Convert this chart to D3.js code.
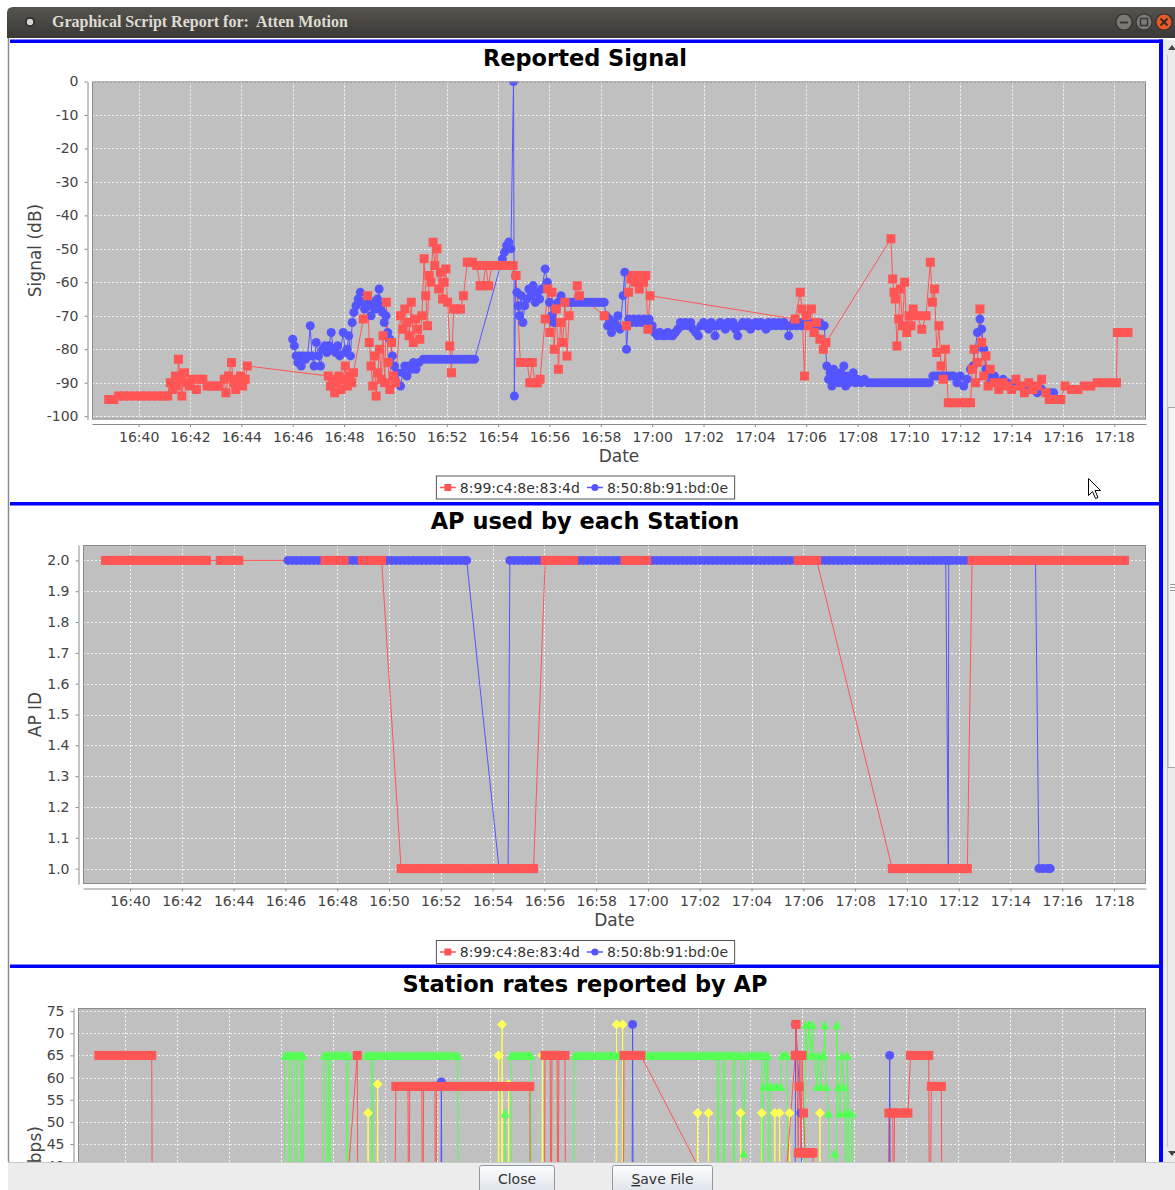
<!DOCTYPE html>
<html>
<head>
<meta charset="utf-8">
<script src="https://cdn.jsdelivr.net/npm/d3@7/dist/d3.min.js"></script>
<style>
  html, body { margin: 0; padding: 0; background: #fff; overflow: hidden; }
  svg { display: block; font-family: "DejaVu Sans", sans-serif; }
</style>
</head>
<body>
<script>
// ---------------- data ----------------
const windowTitle = "Graphical Script Report for:  Atten Motion";
const timeDomain = ["16:38:11", "17:19:14"];
const dateTicks = ["16:40","16:42","16:44","16:46","16:48","16:50","16:52","16:54","16:56","16:58",
                   "17:00","17:02","17:04","17:06","17:08","17:10","17:12","17:14","17:16","17:18"];
const stations = ["8:99:c4:8e:83:4d", "8:50:8b:91:bd:0e"];

const signalTicks = [0, -10, -20, -30, -40, -50, -60, -70, -80, -90, -100];
const apTicks = [1.0, 1.1, 1.2, 1.3, 1.4, 1.5, 1.6, 1.7, 1.8, 1.9, 2.0];
const rateTicks = [0, 5, 10, 15, 20, 25, 30, 35, 40, 45, 50, 55, 60, 65, 70, 75];

// Reported Signal (dB)
const signalRed = [
["16:38:50",-95],["16:39:02",-95],["16:39:13",-94],["16:39:26",-94],["16:39:39",-94],["16:39:52",-94],["16:40:05",-94],
["16:40:18",-94],["16:40:31",-94],["16:40:44",-94],["16:40:57",-94],["16:41:08",-94],["16:41:14",-90],["16:41:20",-92],
["16:41:26",-88],["16:41:30",-91],["16:41:33",-83],["16:41:37",-89],["16:41:41",-94],["16:41:47",-87],["16:41:52",-90],
["16:41:58",-91],["16:42:05",-89],["16:42:15",-92],["16:42:22",-89],["16:42:30",-89],["16:42:40",-91],["16:42:50",-91],
["16:43:00",-91],["16:43:08",-91],["16:43:20",-89],["16:43:24",-93],["16:43:30",-88],["16:43:37",-84],["16:43:42",-90],
["16:43:47",-92],["16:43:52",-89],["16:43:58",-88],["16:44:03",-91],["16:44:09",-89],["16:44:14",-85],
["16:47:23",-88],["16:47:28",-91],["16:47:33",-89],["16:47:38",-93],["16:47:43",-90],["16:47:48",-88],["16:47:53",-92],
["16:47:58",-89],["16:48:03",-85],["16:48:08",-91],["16:48:13",-88],["16:48:18",-90],["16:48:22",-87],
["16:48:45",-71],["16:48:55",-64],["16:48:59",-78],["16:49:03",-85],["16:49:07",-91],["16:49:11",-82],["16:49:15",-94],
["16:49:19",-87],["16:49:23",-80],["16:49:27",-89],["16:49:31",-76],["16:49:35",-90],["16:49:39",-66],["16:49:43",-84],
["16:49:47",-92],["16:49:51",-78],["16:49:55",-88],["16:50:00",-90],
["16:50:12",-70],["16:50:17",-74],["16:50:22",-68],["16:50:27",-72],["16:50:32",-76],["16:50:37",-66],["16:50:42",-78],
["16:50:47",-71],["16:50:52",-74],["16:50:57",-77],["16:51:02",-70],["16:51:07",-53],["16:51:11",-64],["16:51:15",-73],
["16:51:19",-58],["16:51:23",-60],["16:51:28",-48],["16:51:32",-55],["16:51:37",-50],["16:51:41",-62],["16:51:45",-57],
["16:51:50",-65],["16:51:54",-60],["16:51:58",-56],["16:52:02",-66],["16:52:07",-79],["16:52:11",-87],["16:52:16",-68],
["16:52:24",-68],["16:52:32",-68],["16:52:39",-64],["16:52:48",-54],["16:53:00",-54],["16:53:10",-55],["16:53:18",-61],
["16:53:25",-61],["16:53:31",-55],["16:53:38",-61],["16:53:45",-55],["16:53:55",-55],["16:54:05",-55],["16:54:15",-55],
["16:54:25",-55],["16:54:35",-55],["16:54:42",-58],["16:54:52",-84],["16:55:00",-84],["16:55:08",-84],["16:55:14",-90],
["16:55:20",-84],["16:55:26",-90],["16:55:32",-90],["16:55:38",-89],["16:55:50",-71],["16:55:56",-62],["16:56:01",-75],
["16:56:06",-63],["16:56:11",-80],["16:56:16",-68],["16:56:21",-86],["16:56:26",-72],["16:56:31",-78],["16:56:36",-66],
["16:56:41",-82],["16:56:46",-70],["16:57:05",-61],["16:57:10",-64],["16:58:08",-70],
["16:59:00",-73],["16:59:05",-63],["16:59:10",-59],["16:59:15",-58],["16:59:20",-60],["16:59:25",-58],["16:59:30",-62],
["16:59:35",-58],["16:59:40",-60],["16:59:45",-58],["16:59:50",-74],["16:59:55",-64],
["17:05:34",-71],["17:05:46",-63],["17:05:50",-68],["17:05:56",-88],["17:06:00",-70],["17:06:05",-73],["17:06:12",-68],
["17:06:18",-75],["17:06:24",-72],["17:06:32",-77],["17:06:40",-80],["17:06:46",-78],
["17:09:18",-47],["17:09:22",-59],["17:09:25",-63],["17:09:28",-65],["17:09:32",-79],["17:09:36",-71],["17:09:40",-62],
["17:09:45",-73],["17:09:50",-60],["17:09:55",-75],["17:10:00",-70],["17:10:05",-73],["17:10:10",-68],["17:10:20",-70],
["17:10:30",-74],["17:10:40",-70],["17:10:50",-54],["17:10:55",-66],["17:11:00",-62],["17:11:05",-81],["17:11:10",-73],
["17:11:15",-85],["17:11:20",-89],["17:11:25",-80],["17:11:32",-96],["17:11:45",-96],["17:12:00",-96],["17:12:12",-96],
["17:12:24",-96],["17:12:28",-86],["17:12:32",-80],["17:12:36",-90],["17:12:40",-84],["17:12:46",-68],["17:12:50",-78],
["17:12:55",-88],["17:13:00",-82],["17:13:05",-91],["17:13:10",-86],["17:13:20",-90],["17:13:30",-92],["17:13:40",-90],
["17:13:50",-91],["17:14:00",-92],["17:14:10",-89],["17:14:20",-91],["17:14:30",-93],["17:14:40",-90],["17:14:50",-92],
["17:15:00",-91],["17:15:10",-89],["17:15:20",-93],["17:15:28",-95],["17:15:40",-95],["17:15:55",-95],["17:16:05",-91],
["17:16:20",-92],["17:16:35",-92],["17:16:50",-91],["17:17:05",-91],["17:17:20",-90],["17:17:35",-90],["17:17:50",-90],
["17:18:05",-90],["17:18:07",-75],["17:18:20",-75],["17:18:32",-75]
];
const signalBlue = [
["16:46:00",-77],["16:46:04",-79],["16:46:08",-82],["16:46:12",-84],["16:46:16",-82],["16:46:20",-85],["16:46:25",-82],
["16:46:30",-83],["16:46:35",-82],["16:46:41",-73],["16:46:45",-82],["16:46:50",-85],["16:46:55",-78],["16:47:00",-82],
["16:47:05",-85],["16:47:10",-80],["16:47:15",-79],["16:47:20",-81],["16:47:25",-79],["16:47:30",-75],["16:47:35",-80],
["16:47:40",-81],["16:47:45",-79],["16:47:50",-82],["16:47:58",-75],["16:48:03",-81],["16:48:07",-80],["16:48:11",-76],
["16:48:15",-82],["16:48:19",-72],["16:48:23",-69],["16:48:28",-67],["16:48:33",-65],["16:48:38",-63],["16:48:43",-66],
["16:48:48",-68],["16:48:53",-65],["16:48:58",-67],["16:49:03",-70],["16:49:08",-66],["16:49:13",-68],["16:49:18",-65],
["16:49:22",-62],["16:49:26",-67],["16:49:30",-69],["16:49:34",-72],["16:49:38",-70],["16:49:42",-75],["16:49:47",-77],
["16:49:53",-82],["16:49:58",-85],["16:50:04",-87],["16:50:12",-91],["16:50:17",-87],["16:50:22",-85],["16:50:27",-88],
["16:50:32",-85],["16:50:37",-86],["16:50:42",-84],["16:50:48",-86],["16:50:55",-84],
["16:51:05",-83],["16:51:13",-83],["16:51:21",-83],["16:51:29",-83],["16:51:37",-83],["16:51:45",-83],["16:51:53",-83],
["16:52:01",-83],["16:52:09",-83],["16:52:17",-83],["16:52:25",-83],["16:52:33",-83],["16:52:41",-83],["16:52:49",-83],
["16:52:57",-83],["16:53:05",-83],
["16:54:10",-53],["16:54:15",-51],["16:54:20",-49],["16:54:25",-48],["16:54:30",-50],
["16:54:36",0],["16:54:38",-94],["16:54:41",-58],["16:54:44",-63],["16:54:47",-67],["16:54:50",-70],["16:54:54",-64],
["16:54:58",-72],["16:55:02",-67],["16:55:07",-65],["16:55:12",-62],["16:55:17",-64],["16:55:22",-61],["16:55:27",-66],
["16:55:32",-63],["16:55:37",-65],["16:55:42",-62],["16:55:50",-56],["16:55:55",-60],["16:56:00",-66],["16:56:05",-70],
["16:56:10",-72],["16:56:15",-68],["16:56:20",-66],["16:56:27",-64],
["16:56:35",-66],["16:56:43",-66],["16:56:51",-66],["16:56:59",-66],["16:57:07",-66],["16:57:15",-66],["16:57:23",-66],
["16:57:31",-66],["16:57:39",-66],["16:57:47",-66],["16:57:55",-66],["16:58:03",-66],["16:58:08",-66],
["16:58:12",-70],["16:58:16",-73],["16:58:20",-71],["16:58:25",-75],["16:58:30",-72],["16:58:35",-73],["16:58:40",-70],
["16:58:45",-74],["16:58:52",-64],["16:58:56",-57],["16:59:00",-80],
["16:59:05",-71],["16:59:11",-72],["16:59:17",-71],["16:59:23",-72],["16:59:29",-71],["16:59:35",-72],["16:59:41",-71],
["16:59:47",-72],["16:59:53",-71],["17:00:00",-73],["17:00:06",-75],["17:00:12",-76],["17:00:18",-75],["17:00:24",-76],
["17:00:30",-76],["17:00:36",-75],["17:00:42",-76],["17:00:48",-76],["17:00:54",-75],["17:01:00",-74],["17:01:06",-72],
["17:01:12",-73],["17:01:18",-72],["17:01:24",-73],["17:01:30",-72],["17:01:36",-74],["17:01:42",-75],["17:01:48",-76],
["17:01:54",-73],["17:02:00",-72],["17:02:06",-73],["17:02:12",-74],["17:02:18",-72],["17:02:24",-73],["17:02:27",-76],
["17:02:33",-73],["17:02:39",-72],["17:02:45",-73],["17:02:51",-74],["17:02:57",-72],["17:03:03",-73],["17:03:09",-72],
["17:03:15",-74],["17:03:20",-76],["17:03:26",-73],["17:03:32",-72],["17:03:38",-73],["17:03:44",-72],["17:03:50",-74],
["17:03:56",-73],["17:04:02",-72],["17:04:08",-73],["17:04:14",-72],["17:04:20",-73],["17:04:26",-74],["17:04:32",-72],
["17:04:38",-73],["17:04:44",-72],["17:04:50",-73],["17:04:56",-72],["17:05:02",-73],["17:05:08",-72],["17:05:14",-73],
["17:05:19",-76],["17:05:25",-73],["17:05:31",-72],["17:05:37",-73],["17:05:43",-72],["17:05:49",-73],["17:05:55",-72],
["17:06:01",-73],["17:06:07",-72],["17:06:13",-73],["17:06:19",-72],["17:06:25",-73],["17:06:31",-72],["17:06:37",-73],
["17:06:42",-73],
["17:06:48",-85],["17:06:52",-89],["17:06:56",-87],["17:07:00",-91],["17:07:04",-86],["17:07:08",-89],["17:07:12",-88],
["17:07:16",-90],["17:07:20",-87],["17:07:24",-89],["17:07:28",-85],["17:07:32",-91],["17:07:36",-88],["17:07:40",-90],
["17:07:45",-89],["17:07:50",-87],["17:07:55",-90],["17:08:00",-89],["17:08:08",-90],["17:08:16",-89],["17:08:24",-90],
["17:08:32",-90],["17:08:40",-90],["17:08:48",-90],["17:08:56",-90],["17:09:04",-90],["17:09:12",-90],["17:09:20",-90],
["17:09:28",-90],["17:09:36",-90],["17:09:44",-90],["17:09:52",-90],["17:10:00",-90],["17:10:08",-90],["17:10:16",-90],
["17:10:24",-90],["17:10:32",-90],["17:10:40",-90],["17:10:48",-90],["17:10:56",-88],["17:11:04",-88],["17:11:12",-88],
["17:11:20",-88],["17:11:28",-88],["17:11:36",-88],["17:11:44",-88],["17:11:52",-90],["17:12:00",-88],["17:12:08",-91],
["17:12:16",-89],["17:12:24",-86],["17:12:30",-85],["17:12:35",-80],["17:12:40",-75],["17:12:46",-71],["17:12:50",-74],
["17:12:55",-80],["17:13:00",-86],["17:13:05",-88],["17:13:10",-89],["17:13:20",-88],["17:13:30",-90],["17:13:40",-89],
["17:13:50",-90],["17:14:00",-91],["17:14:10",-90],["17:14:20",-91],["17:14:30",-92],["17:14:40",-91],["17:14:50",-92],
["17:15:00",-93],["17:15:10",-92],["17:15:20",-93],["17:15:30",-93],["17:15:38",-93]
];

// AP used by each Station
const apRed = [
["16:39:03",2],["16:39:18",2],["16:39:33",2],["16:39:48",2],["16:40:03",2],["16:40:18",2],["16:40:33",2],["16:40:48",2],
["16:41:03",2],["16:41:18",2],["16:41:33",2],["16:41:48",2],["16:42:03",2],["16:42:18",2],["16:42:33",2],["16:42:48",2],
["16:42:57",2],["16:43:29",2],["16:43:44",2],["16:43:59",2],["16:44:12",2],
["16:47:32",2],["16:47:47",2],["16:48:02",2],["16:48:16",2],["16:48:58",2],["16:49:13",2],["16:49:28",2],["16:49:43",2],
["16:50:28",1],["16:50:43",1],["16:50:58",1],["16:51:13",1],["16:51:28",1],["16:51:43",1],["16:51:58",1],["16:52:13",1],
["16:52:28",1],["16:52:43",1],["16:52:58",1],["16:53:13",1],["16:53:28",1],["16:53:43",1],["16:53:58",1],["16:54:13",1],
["16:54:28",1],["16:54:43",1],["16:54:58",1],["16:55:13",1],["16:55:28",1],["16:55:35",1],
["16:56:02",2],["16:56:17",2],["16:56:32",2],["16:56:47",2],["16:57:08",2],
["16:59:07",2],["16:59:22",2],["16:59:37",2],["16:59:57",2],
["17:05:48",2],["17:06:03",2],["17:06:18",2],["17:06:31",2],
["17:09:26",1],["17:09:41",1],["17:09:56",1],["17:10:11",1],["17:10:26",1],["17:10:41",1],["17:10:56",1],["17:11:11",1],
["17:11:26",1],["17:11:41",1],["17:11:56",1],["17:12:11",1],["17:12:20",1],
["17:12:31",2],["17:12:46",2],["17:13:01",2],["17:13:16",2],["17:13:31",2],["17:13:46",2],["17:14:01",2],["17:14:16",2],
["17:14:31",2],["17:14:46",2],["17:15:01",2],["17:15:16",2],["17:15:31",2],["17:15:46",2],["17:16:01",2],["17:16:16",2],
["17:16:31",2],["17:16:46",2],["17:17:01",2],["17:17:16",2],["17:17:31",2],["17:17:46",2],["17:18:01",2],["17:18:16",2],
["17:18:24",2]
];
const apBlue = [
["16:46:06",2],["16:46:16",2],["16:46:26",2],["16:46:36",2],["16:46:46",2],["16:46:56",2],
["16:47:06",2],["16:47:16",2],["16:47:26",2],["16:47:36",2],["16:47:46",2],["16:47:56",2],
["16:48:06",2],["16:48:16",2],["16:48:26",2],["16:48:36",2],["16:48:46",2],["16:48:56",2],
["16:49:06",2],["16:49:16",2],["16:49:26",2],["16:49:36",2],["16:49:46",2],["16:49:56",2],
["16:50:06",2],["16:50:16",2],["16:50:26",2],["16:50:36",2],["16:50:46",2],["16:50:56",2],
["16:51:06",2],["16:51:16",2],["16:51:26",2],["16:51:36",2],["16:51:46",2],["16:51:56",2],
["16:52:06",2],["16:52:16",2],["16:52:26",2],["16:52:36",2],["16:52:46",2],["16:52:56",2],["16:53:00",2],
["16:54:15",1],["16:54:25",1],["16:54:36",1],
["16:54:40",2],["16:54:50",2],
["16:55:00",2],["16:55:10",2],["16:55:20",2],["16:55:30",2],["16:55:40",2],["16:55:50",2],
["16:56:00",2],["16:56:10",2],["16:56:20",2],["16:56:30",2],["16:56:40",2],["16:56:50",2],
["16:57:00",2],["16:57:10",2],["16:57:20",2],["16:57:30",2],["16:57:40",2],["16:57:50",2],
["16:58:00",2],["16:58:10",2],["16:58:20",2],["16:58:30",2],["16:58:40",2],["16:58:50",2],
["16:59:00",2],["16:59:10",2],["16:59:20",2],["16:59:30",2],["16:59:40",2],["16:59:50",2],
["17:00:00",2],["17:00:10",2],["17:00:20",2],["17:00:30",2],["17:00:40",2],["17:00:50",2],
["17:01:00",2],["17:01:10",2],["17:01:20",2],["17:01:30",2],["17:01:40",2],["17:01:50",2],
["17:02:00",2],["17:02:10",2],["17:02:20",2],["17:02:30",2],["17:02:40",2],["17:02:50",2],
["17:03:00",2],["17:03:10",2],["17:03:20",2],["17:03:30",2],["17:03:40",2],["17:03:50",2],
["17:04:00",2],["17:04:10",2],["17:04:20",2],["17:04:30",2],["17:04:40",2],["17:04:50",2],
["17:05:00",2],["17:05:10",2],["17:05:20",2],["17:05:30",2],["17:05:40",2],["17:05:50",2],
["17:06:00",2],["17:06:10",2],["17:06:20",2],["17:06:30",2],["17:06:40",2],["17:06:50",2],
["17:07:00",2],["17:07:10",2],["17:07:20",2],["17:07:30",2],["17:07:40",2],["17:07:50",2],
["17:08:00",2],["17:08:10",2],["17:08:20",2],["17:08:30",2],["17:08:40",2],["17:08:50",2],
["17:09:00",2],["17:09:10",2],["17:09:20",2],["17:09:30",2],["17:09:40",2],["17:09:50",2],
["17:10:00",2],["17:10:10",2],["17:10:20",2],["17:10:30",2],["17:10:40",2],["17:10:50",2],
["17:11:00",2],["17:11:10",2],["17:11:20",2],["17:11:30",2],["17:11:36",1],["17:11:37",2],
["17:11:45",2],["17:11:55",2],["17:12:05",2],["17:12:15",2],["17:12:25",2],
["17:12:45",2],["17:13:05",2],["17:13:25",2],["17:13:45",2],["17:14:05",2],["17:14:25",2],["17:14:45",2],["17:14:58",2],
["17:15:06",1],["17:15:16",1],["17:15:26",1],["17:15:32",1]
];

// Station rates reported by AP (Mbps)
const rateRed = [
["16:38:59",65],["16:39:14",65],["16:39:29",65],["16:39:44",65],["16:39:59",65],["16:40:14",65],["16:40:29",65],
["16:40:44",65],["16:41:01",65],["16:41:03",6],["16:48:09",6],["16:48:55",65],["16:48:57",6],
["16:50:20",6],["16:50:24",58],["16:50:38",58],["16:50:52",58],["16:50:54",6],["16:50:56",58],["16:51:10",58],
["16:51:24",58],["16:51:26",6],["16:51:28",58],["16:51:42",58],["16:51:54",58],["16:51:56",6],["16:51:58",58],
["16:52:12",58],["16:52:26",58],["16:52:40",58],["16:52:54",58],["16:53:08",58],["16:53:22",58],["16:53:36",58],
["16:53:50",58],["16:54:04",58],["16:54:18",58],["16:54:32",58],["16:54:46",58],["16:55:00",58],["16:55:14",58],
["16:55:28",58],["16:55:33",58],["16:55:35",6],
["16:56:06",6],["16:56:08",65],["16:56:20",65],["16:56:22",6],["16:56:24",65],["16:56:36",65],["16:56:38",6],
["16:56:40",65],["16:56:54",65],["16:56:56",6],
["16:59:08",6],["16:59:10",65],["16:59:22",65],["16:59:35",65],["16:59:49",65],["17:05:00",6],
["17:05:45",65],["17:05:47",72],["17:05:49",65],["17:05:52",43],["17:05:54",58],["17:05:56",65],["17:05:58",43],
["17:06:01",65],["17:06:04",52],["17:06:08",43],["17:06:12",43],["17:06:17",43],["17:06:22",43],["17:06:26",43],
["17:06:28",6],["17:09:19",6],["17:09:21",52],["17:09:30",52],["17:09:32",6],["17:09:34",52],["17:09:46",52],
["17:09:58",52],["17:10:05",52],["17:10:11",65],["17:10:24",65],["17:10:38",65],["17:10:53",65],["17:10:55",6],
["17:10:59",58],["17:11:10",58],["17:11:22",58],["17:11:24",6]
];
const rateBlue = [
["16:52:07",6],["16:52:09",59],["16:52:11",6],["16:59:28",6],["16:59:30",72],["16:59:32",6],["17:05:44",6],
["17:05:46",72],["17:05:58",52],["17:06:06",6],["17:09:21",6],["17:09:23",65],["17:09:25",6]
];
const rateGreen = [
["16:46:06",6],["16:46:08",65],["16:46:12",65],["16:46:16",65],["16:46:18",65],["16:46:20",6],["16:46:24",65],
["16:46:27",65],["16:46:30",65],["16:46:32",6],["16:46:36",65],["16:46:40",65],["16:46:44",65],["16:46:46",6],
["16:46:48",65],["16:46:50",65],["16:46:52",6],
["16:47:36",6],["16:47:38",65],["16:47:41",65],["16:47:44",65],["16:47:46",6],["16:47:49",65],["16:47:51",6],
["16:47:54",65],["16:47:58",65],["16:48:02",65],["16:48:06",65],["16:48:10",65],["16:48:14",65],["16:48:18",65],
["16:48:22",65],["16:48:26",65],["16:48:30",65],["16:48:32",6],["16:48:34",65],["16:48:36",65],
["16:49:15",65],["16:49:20",65],["16:49:25",65],["16:49:28",65],["16:49:30",6],["16:49:32",65],["16:49:37",65],
["16:49:42",65],["16:49:47",65],["16:49:52",65],["16:49:57",65],["16:50:02",65],["16:50:07",65],["16:50:12",65],
["16:50:17",65],["16:50:22",65],["16:50:27",65],["16:50:32",65],["16:50:37",65],["16:50:42",65],["16:50:47",65],
["16:50:52",65],["16:50:57",65],["16:51:02",65],["16:51:07",65],["16:51:12",65],["16:51:17",65],["16:51:22",65],
["16:51:27",65],["16:51:32",65],["16:51:37",65],["16:51:42",65],["16:51:47",65],["16:51:52",65],["16:51:57",65],
["16:52:02",65],["16:52:07",65],["16:52:12",65],["16:52:17",65],["16:52:22",65],["16:52:27",65],["16:52:32",65],
["16:52:37",65],["16:52:42",65],["16:52:47",65],["16:52:49",6],
["16:54:34",6],["16:54:36",52],["16:54:38",6],["16:54:48",6],["16:54:50",65],["16:54:55",65],["16:55:00",65],
["16:55:05",65],["16:55:10",65],["16:55:15",65],["16:55:20",65],["16:55:25",65],["16:55:30",65],["16:55:36",65],
["16:55:38",6],
["16:57:13",6],["16:57:15",65],["16:57:20",65],["16:57:25",65],["16:57:30",65],["16:57:35",65],["16:57:40",65],
["16:57:45",65],["16:57:50",65],["16:57:55",65],["16:58:00",65],["16:58:05",65],["16:58:10",65],["16:58:15",65],
["16:58:20",65],["16:58:25",65],["16:58:30",65],["16:58:35",65],["16:58:40",65],["16:58:45",65],["16:58:50",65],
["16:58:55",65],["16:59:00",65],["16:59:05",65],["16:59:10",65],["16:59:15",65],["16:59:20",65],["16:59:25",65],
["16:59:30",65],["16:59:35",65],["16:59:40",65],["16:59:45",65],["16:59:50",65],["16:59:55",65],["17:00:00",65],
["17:00:05",65],["17:00:10",65],["17:00:15",65],["17:00:20",65],["17:00:25",65],["17:00:30",65],["17:00:35",65],
["17:00:40",65],["17:00:45",65],["17:00:50",65],["17:00:55",65],["17:01:00",65],["17:01:05",65],["17:01:10",65],
["17:01:15",65],["17:01:20",65],["17:01:25",65],["17:01:30",65],["17:01:35",65],["17:01:40",65],["17:01:45",65],
["17:01:50",65],["17:01:55",65],["17:02:00",65],["17:02:05",65],["17:02:10",65],["17:02:15",65],["17:02:20",65],
["17:02:25",65],["17:02:30",65],["17:02:35",65],["17:02:40",65],["17:02:45",65],["17:02:47",6],["17:02:49",65],
["17:02:54",65],["17:02:59",65],["17:03:01",6],["17:03:03",65],["17:03:08",65],["17:03:13",65],["17:03:18",65],
["17:03:22",65],["17:03:24",6],["17:03:26",65],["17:03:31",65],["17:03:36",65],["17:03:41",65],["17:03:46",43],
["17:03:50",65],["17:03:55",65],["17:04:00",65],["17:04:05",65],["17:04:10",65],["17:04:15",65],["17:04:20",65],
["17:04:25",65],["17:04:28",65],["17:04:30",6],
["17:04:32",58],["17:04:36",65],["17:04:40",58],["17:04:42",65],["17:04:44",6],["17:04:48",58],["17:04:56",58],
["17:05:04",58],["17:05:12",58],["17:05:14",65],["17:05:18",65],["17:05:22",65],["17:05:26",65],["17:05:30",6],
["17:06:07",6],["17:06:09",72],["17:06:13",65],["17:06:17",72],["17:06:21",65],["17:06:25",72],["17:06:28",65],
["17:06:35",58],["17:06:38",65],["17:06:44",58],["17:06:48",65],["17:06:51",65],["17:06:53",72],["17:06:57",58],
["17:07:02",52],["17:07:04",6],["17:07:16",43],["17:07:19",6],["17:07:21",72],["17:07:24",58],["17:07:28",52],
["17:07:33",65],["17:07:37",58],["17:07:40",52],["17:07:43",6],["17:07:45",65],["17:07:48",52],["17:07:52",6],
["17:07:56",52],["17:07:58",6]
];
const rateYellow = [
["16:49:18",6],["16:49:20",52],["16:49:22",6],["16:49:40",6],["16:49:42",58.5],["16:49:44",6],
["16:54:19",6],["16:54:21",65],["16:54:23",6],["16:54:27",6],["16:54:29",72],["16:54:31",6],["16:54:42",6],
["16:54:44",58.5],["16:54:46",6],["16:56:00",6],["16:56:02",65],["16:56:04",6],
["16:58:51",6],["16:58:53",72],["16:58:55",6],["16:59:05",6],["16:59:07",72],["16:59:09",6],
["17:01:58",6],["17:02:00",52],["17:02:02",6],["17:02:23",6],["17:02:25",52],["17:02:27",6],["17:03:37",6],
["17:03:39",52],["17:03:41",6],["17:04:26",6],["17:04:28",52],["17:04:30",6],["17:04:56",6],["17:04:58",52],
["17:05:00",6],["17:05:07",6],["17:05:09",52],["17:05:11",6],["17:05:30",6],["17:05:32",52],["17:05:34",6],
["17:06:40",6],["17:06:42",52],["17:06:44",6]
];

// ---------------- drawing ----------------
const W = 1175, H = 1190;
const RED = "#ff5555", BLUE = "#5555ff", GREEN = "#55ff55", YELLOW = "#ffff55";
const parseTime = d3.timeParse("%H:%M:%S");
const parseTick = d3.timeParse("%H:%M");
const toPoints = arr => arr.map(([t, v]) => ({ t: parseTime(t), v }));

const svg = d3.select("body").append("svg").attr("width", W).attr("height", H);
const defs = svg.append("defs");

const tg = defs.append("linearGradient").attr("id", "titlebar").attr("x1", 0).attr("y1", 0).attr("x2", 0).attr("y2", 1);
tg.append("stop").attr("offset", "0%").attr("stop-color", "#56544f");
tg.append("stop").attr("offset", "100%").attr("stop-color", "#3a3935");
const bg = defs.append("linearGradient").attr("id", "button").attr("x1", 0).attr("y1", 0).attr("x2", 0).attr("y2", 1);
bg.append("stop").attr("offset", "0%").attr("stop-color", "#fdfdfe");
bg.append("stop").attr("offset", "100%").attr("stop-color", "#d9e0e8");

// window body
svg.append("rect").attr("x", 8).attr("y", 38).attr("width", W - 8).attr("height", H - 38).attr("fill", "#ffffff");
svg.append("line").attr("x1", 8.5).attr("x2", 8.5).attr("y1", 38).attr("y2", 1162)
  .attr("stroke", "#8c8c8c").attr("stroke-width", 1.5);

const shapes = {
  square: "M-4.5,-4.5h9v9h-9Z",
  circle: d3.symbol(d3.symbolCircle, 64)(),
  triangle: "M0,-4.5L4.5,4.5L-4.5,4.5Z",
  diamond: "M0,-5L5,0L0,5L-5,0Z"
};

function drawChart(cfg, idx) {
  const g = svg.append("g");
  const x = d3.scaleTime().domain(timeDomain.map(parseTime)).range([cfg.left, cfg.right]);
  const y = d3.scaleLinear().domain(cfg.yDomain).range([cfg.bottom, cfg.top]);

  g.append("text").attr("x", 585).attr("y", cfg.titleY).attr("text-anchor", "middle")
    .attr("font-size", 22.5).attr("font-weight", "bold").attr("fill", "#000").text(cfg.title);

  g.append("rect").attr("x", cfg.left).attr("y", cfg.top)
    .attr("width", cfg.right - cfg.left).attr("height", cfg.bottom - cfg.top).attr("fill", "#c0c0c0");

  const grid = g.append("g").attr("stroke", "#f4f4f4").attr("stroke-width", 1).attr("stroke-dasharray", "2,2");
  grid.selectAll(".gx").data(dateTicks).join("line")
    .attr("x1", d => Math.round(x(parseTick(d))) + 0.5).attr("x2", d => Math.round(x(parseTick(d))) + 0.5)
    .attr("y1", cfg.top).attr("y2", cfg.bottom);
  grid.selectAll(".gy").data(cfg.yTicks).join("line")
    .attr("x1", cfg.left).attr("x2", cfg.right)
    .attr("y1", d => Math.round(y(d)) + 0.5).attr("y2", d => Math.round(y(d)) + 0.5);

  defs.append("clipPath").attr("id", "clip" + idx).append("rect")
    .attr("x", cfg.left).attr("y", cfg.top).attr("width", cfg.right - cfg.left).attr("height", cfg.bottom - cfg.top);
  const data = g.append("g").attr("clip-path", `url(#clip${idx})`);

  const line = d3.line().x(d => x(d.t)).y(d => y(d.v));
  const series = cfg.series.map(s => ({ ...s, pts: toPoints(s.data) }));
  // pass 0: lines, pass 1: shapes (series 0 drawn last, on top)
  series.slice().reverse().forEach(s => {
    data.append("path").attr("d", line(s.pts)).attr("fill", "none").attr("stroke", s.color).attr("stroke-width", 1);
  });
  series.slice().reverse().forEach(s => {
    data.append("g").selectAll("path").data(s.pts).join("path")
      .attr("d", shapes[s.shape]).attr("fill", s.color)
      .attr("transform", d => `translate(${x(d.t)},${y(d.v)})`);
  });

  g.append("rect").attr("x", cfg.left + 0.5).attr("y", cfg.top + 0.5)
    .attr("width", cfg.right - cfg.left - 1).attr("height", cfg.bottom - cfg.top - 1)
    .attr("fill", "none").attr("stroke", "#8a8a8a");

  // axes (only the parts that fall inside the window)
  const shownTicks = cfg.yTicks.filter(d => y(d) < H - 10);
  const axes = [];
  axes.push(g.append("g").attr("transform", `translate(${cfg.left - 4.5},0)`)
    .call(d3.axisLeft(y).tickValues(shownTicks).tickFormat(d => String(d === 0 ? 0 : cfg.yFormat(d)))
      .tickSize(3).tickSizeOuter(0).tickPadding(6)));
  if (cfg.bottom + 30 < H) {
    axes.push(g.append("g").attr("transform", `translate(0,${cfg.bottom + 4.5})`)
      .call(d3.axisBottom(x).tickValues(dateTicks.map(parseTick)).tickFormat(d3.timeFormat("%H:%M"))
        .tickSize(3).tickSizeOuter(0).tickPadding(5)));
    g.append("text").attr("x", (cfg.left + cfg.right) / 2).attr("y", cfg.bottom + 42)
      .attr("text-anchor", "middle").attr("font-size", 17).attr("fill", "#444444").text("Date");
  }
  axes.forEach(a => {
    a.attr("font-family", null).attr("font-size", 14);
    a.select(".domain").attr("stroke", "#8a8a8a");
    a.selectAll(".tick line").attr("stroke", "#8a8a8a");
    a.selectAll(".tick text").attr("fill", "#444444");
  });

  g.append("text").attr("transform", `translate(35,${(cfg.top + cfg.bottom) / 2}) rotate(-90)`)
    .attr("text-anchor", "middle").attr("dominant-baseline", "central")
    .attr("font-size", 17).attr("fill", "#444444").text(cfg.yLabel);

  if (cfg.legend) {
    const lg = g.append("g");
    const ly = cfg.bottom + 68;
    let cx = 0;
    series.forEach((s, i) => {
      const it = lg.append("g");
      it.append("line").attr("x1", cx + 4).attr("x2", cx + 20).attr("y1", ly).attr("y2", ly)
        .attr("stroke", s.color).attr("stroke-width", 1.5);
      it.append("path").attr("d", s.shape === "square" ? "M-3.5,-3.5h7v7h-7Z" : d3.symbol(d3.symbolCircle, 40)())
        .attr("fill", s.color).attr("transform", `translate(${cx + 12},${ly})`);
      const t = it.append("text").attr("x", cx + 24).attr("y", ly).attr("dominant-baseline", "central")
        .attr("font-size", 14).attr("fill", "#333").text(stations[i]);
      cx += 24 + t.node().getComputedTextLength() + 3;
    });
    const bw = cx + 3;
    lg.attr("transform", `translate(${585 - bw / 2},0)`);
    lg.insert("rect", ":first-child").attr("x", 0.5).attr("y", ly - 11.5).attr("width", bw).attr("height", 23)
      .attr("fill", "#fff").attr("stroke", "#555");
  }
}

const fmtInt = d => d.toString();
drawChart({
  title: "Reported Signal", titleY: 66, left: 92, right: 1146, top: 81.5, bottom: 419.5,
  yDomain: [-101, 0], yTicks: signalTicks, yFormat: fmtInt, yLabel: "Signal (dB)", legend: true,
  series: [{ data: signalRed, color: RED, shape: "square" }, { data: signalBlue, color: BLUE, shape: "circle" }]
}, 1);
drawChart({
  title: "AP used by each Station", titleY: 529, left: 83, right: 1146, top: 545, bottom: 884,
  yDomain: [0.95, 2.05], yTicks: apTicks, yFormat: d => d.toFixed(1), yLabel: "AP ID", legend: true,
  series: [{ data: apRed, color: RED, shape: "square" }, { data: apBlue, color: BLUE, shape: "circle" }]
}, 2);
drawChart({
  title: "Station rates reported by AP", titleY: 992, left: 78, right: 1146, top: 1008, bottom: 1347,
  yDomain: [-0.8, 75.7], yTicks: rateTicks, yFormat: fmtInt, yLabel: "Rate (Mbps)", legend: false,
  series: [{ data: rateRed, color: RED, shape: "square" }, { data: rateBlue, color: BLUE, shape: "circle" },
           { data: rateGreen, color: GREEN, shape: "triangle" }, { data: rateYellow, color: YELLOW, shape: "diamond" }]
}, 3);

// blue panel separators
[39.5, 502, 964.5].forEach(yy => svg.append("rect").attr("x", 10).attr("y", yy).attr("width", 1153).attr("height", 3.5).attr("fill", "#0000ff"));
svg.append("rect").attr("x", 1159).attr("y", 39.5).attr("width", 4).attr("height", 1123).attr("fill", "#0000ff");

// scrollbar
svg.append("rect").attr("x", 1163).attr("y", 40).attr("width", 12).attr("height", 1122).attr("fill", "#ebebeb");
svg.append("line").attr("x1", 1167.5).attr("x2", 1167.5).attr("y1", 55).attr("y2", 1147).attr("stroke", "#c6c6c6");
svg.append("rect").attr("x", 1168).attr("y", 407.5).attr("width", 10).attr("height", 360).attr("fill", "#f6f6f6").attr("stroke", "#a6a6a6");
[584.5, 587.5, 590.5].forEach(yy => svg.append("line").attr("x1", 1170).attr("x2", 1176).attr("y1", yy).attr("y2", yy).attr("stroke", "#9a9a9a"));
svg.append("path").attr("d", "M1168,50L1172,45L1176,50Z").attr("fill", "#444");
svg.append("path").attr("d", "M1168,1151L1172,1156L1176,1151Z").attr("fill", "#444");

// title bar
svg.append("path").attr("d", "M7,38V13Q7,7 13,7H1175V38Z").attr("fill", "url(#titlebar)");
svg.append("circle").attr("cx", 30).attr("cy", 22).attr("r", 5).attr("fill", "#2e2d2a");
svg.append("circle").attr("cx", 30).attr("cy", 22).attr("r", 3.2).attr("fill", "#d6d6d2");
svg.append("text").attr("x", 52).attr("y", 27).attr("font-family", "'Liberation Serif', serif")
  .style("white-space", "pre").attr("font-weight", "bold").attr("font-size", 16).attr("fill", "#dfdbd2").text(windowTitle);
[[1124, "#7a7974"], [1144, "#7a7974"], [1164, "#e9592a"]].forEach(([cx, c]) => {
  svg.append("circle").attr("cx", cx).attr("cy", 22).attr("r", 8.5).attr("fill", "#2f2e2b");
  svg.append("circle").attr("cx", cx).attr("cy", 22).attr("r", 7.5).attr("fill", c);
});
svg.append("line").attr("x1", 1120).attr("x2", 1128).attr("y1", 22.5).attr("y2", 22.5).attr("stroke", "#3a3935").attr("stroke-width", 2);
svg.append("rect").attr("x", 1140.5).attr("y", 18.5).attr("width", 7).attr("height", 7).attr("fill", "none").attr("stroke", "#3a3935").attr("stroke-width", 1.5);
svg.append("path").attr("d", "M1160.5,18.5L1167.5,25.5M1167.5,18.5L1160.5,25.5").attr("stroke", "#3a2a20").attr("stroke-width", 2);

// bottom button bar
svg.append("rect").attr("x", 8).attr("y", 1162).attr("width", W - 8).attr("height", H - 1162).attr("fill", "#ececec");
svg.append("line").attr("x1", 8).attr("x2", W).attr("y1", 1162.5).attr("y2", 1162.5).attr("stroke", "#c9c9c9");
[{ x: 479.5, w: 75, label: "Close" }, { x: 612.5, w: 100, label: "Save File" }].forEach(b => {
  svg.append("rect").attr("x", b.x).attr("y", 1165.5).attr("width", b.w).attr("height", 30).attr("rx", 2)
    .attr("fill", "url(#button)").attr("stroke", "#8e99a5");
  const t = svg.append("text").attr("x", b.x + b.w / 2).attr("y", 1184).attr("text-anchor", "middle")
    .attr("font-size", 14).attr("fill", "#333");
  if (b.label === "Save File") {
    t.append("tspan").attr("text-decoration", "underline").text("S");
    t.append("tspan").text("ave File");
  } else t.text(b.label);
});

// mouse pointer
svg.append("path").attr("d", "M1088.5,478.5V495.5L1092.5,491.5L1095.5,498.5L1098,497.5L1095,490.5H1100.5Z")
  .attr("fill", "#fff").attr("stroke", "#000").attr("stroke-width", 1);
</script>
</body>
</html>
